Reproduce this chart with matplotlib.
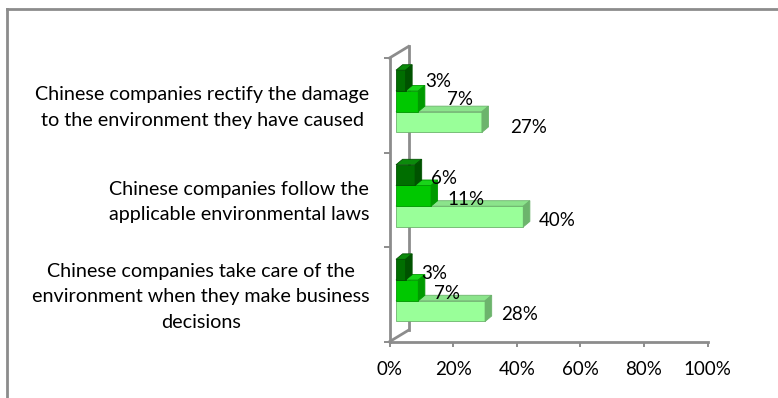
import numpy as np
import matplotlib.pyplot as plt
from matplotlib.patches import Polygon, Rectangle
from matplotlib.lines import Line2D

plt.rcParams['font.family'] = ['Lato', 'DejaVu Sans']

# Survey statements (bottom to top) and shares per answer group
categories = [
    "Chinese companies take care of the\nenvironment when they make business\ndecisions",
    "Chinese companies follow the\napplicable environmental laws",
    "Chinese companies rectify the damage\nto the environment they have caused",
]
dark_vals = [3, 6, 3]
mid_vals = [7, 11, 7]
light_vals = [28, 40, 27]
x_ticks = [0, 20, 40, 60, 80, 100]

series = [dark_vals, mid_vals, light_vals]
# front / top / side shades per series
shades = [
    ("#006e00", "#0b8a0b", "#005200"),
    ("#00c800", "#19d419", "#009a00"),
    ("#99ff99", "#8be48b", "#6cb46c"),
]

W, H = 778, 398
fig = plt.figure(figsize=(W / 100, H / 100), dpi=100)
ax_l, ax_r, ax_t, ax_b = 389.5, 707.7, 58.0, 341.7
ax = fig.add_axes([ax_l / W, (H - ax_b) / H, (ax_r - ax_l) / W, (ax_b - ax_t) / H])
ax.set_xlim(0, 100)
ax.set_ylim(-0.5, 2.5)

# pixel -> data unit helpers for the fake 3D depth
px_x = 100 / (ax_r - ax_l)
px_y = 3 / (ax_b - ax_t)
def off(dx, dy):
    return dx * px_x, dy * px_y

wall_dx, wall_dy = off(19, 11.5)
front_dx, front_dy = off(6.5, 4)
depth_dx, depth_dy = off(6.6, 5.5)

# side wall edges behind the bars
gray = "#8c8c8c"
ax.plot([wall_dx, wall_dx], [-0.5 + wall_dy, 2.5 + wall_dy], color=gray, lw=2, zorder=1, clip_on=False)
ax.plot([0, wall_dx], [-0.5, -0.5 + wall_dy], color=gray, lw=2, zorder=1, clip_on=False)
ax.plot([0, wall_dx], [2.5, 2.5 + wall_dy], color=gray, lw=2, zorder=1, clip_on=False)

h = 0.219
# nudges (in points) for the value labels of the top statement
nudge = {(2, 0): (3, 1.5), (2, 1): (9, 3.5), (2, 2): (9, -1.5)}

for s in [2, 1, 0]:
    front_c, top_c, side_c = shades[s]
    for i, v in enumerate(series[s]):
        yc = i + (1 - s) * h
        y0 = yc - h / 2 + front_dy
        y1 = yc + h / 2 + front_dy
        x0 = front_dx
        x1 = front_dx + v
        z = 3 + (2 - s)
        ax.add_patch(Rectangle((x0, y0), v, h, facecolor=front_c, edgecolor=side_c,
                               lw=0.6, zorder=z, clip_on=False))
        ax.add_patch(Polygon([(x0, y1), (x1, y1), (x1 + depth_dx, y1 + depth_dy),
                              (x0 + depth_dx, y1 + depth_dy)],
                             facecolor=top_c, edgecolor=side_c, lw=0.6, zorder=z, clip_on=False))
        ax.add_patch(Polygon([(x1, y0), (x1 + depth_dx, y0 + depth_dy),
                              (x1 + depth_dx, y1 + depth_dy), (x1, y1)],
                             facecolor=side_c, edgecolor=side_c, lw=0.6, zorder=z, clip_on=False))
        nx, ny = nudge.get((i, s), (0, 0))
        ax.annotate(f"{v}%", (x1, yc + front_dy), xytext=(11.5 + nx, ny - 2.5),
                    textcoords="offset points", ha="left", va="center",
                    fontsize=13.5, color="black", zorder=10)

for side in ["top", "right"]:
    ax.spines[side].set_visible(False)
for side in ["left", "bottom"]:
    ax.spines[side].set_color(gray)
    ax.spines[side].set_linewidth(2)

ax.set_xticks(x_ticks, labels=[f"{t}%" for t in x_ticks])
ax.tick_params(axis="x", length=3.6, width=1.4, color=gray, pad=10, labelsize=13.5)
ax.set_yticks([-0.5, 0.5, 1.5, 2.5], labels=[])
# statement labels sit a little above the category centres
ax.set_yticks(np.arange(3) + 0.035, labels=categories, minor=True)
ax.tick_params(axis="y", which="major", length=4.3, width=1.4, color=gray)
ax.tick_params(axis="y", which="minor", length=0, pad=14.4, labelsize=14.2)
for t in ax.get_yticklabels(minor=True):
    t.set_multialignment("center")
    t.set_linespacing(1.6)
ax.set_facecolor("none")

# chart area border
fig.add_artist(Line2D([7 / W, 1.01], [(H - 8.5) / H] * 2, transform=fig.transFigure, color=gray, lw=2))
fig.add_artist(Line2D([7 / W, 7 / W], [-0.01, (H - 8.5) / H], transform=fig.transFigure, color=gray, lw=2))

fig.savefig("out.png", dpi=100)
